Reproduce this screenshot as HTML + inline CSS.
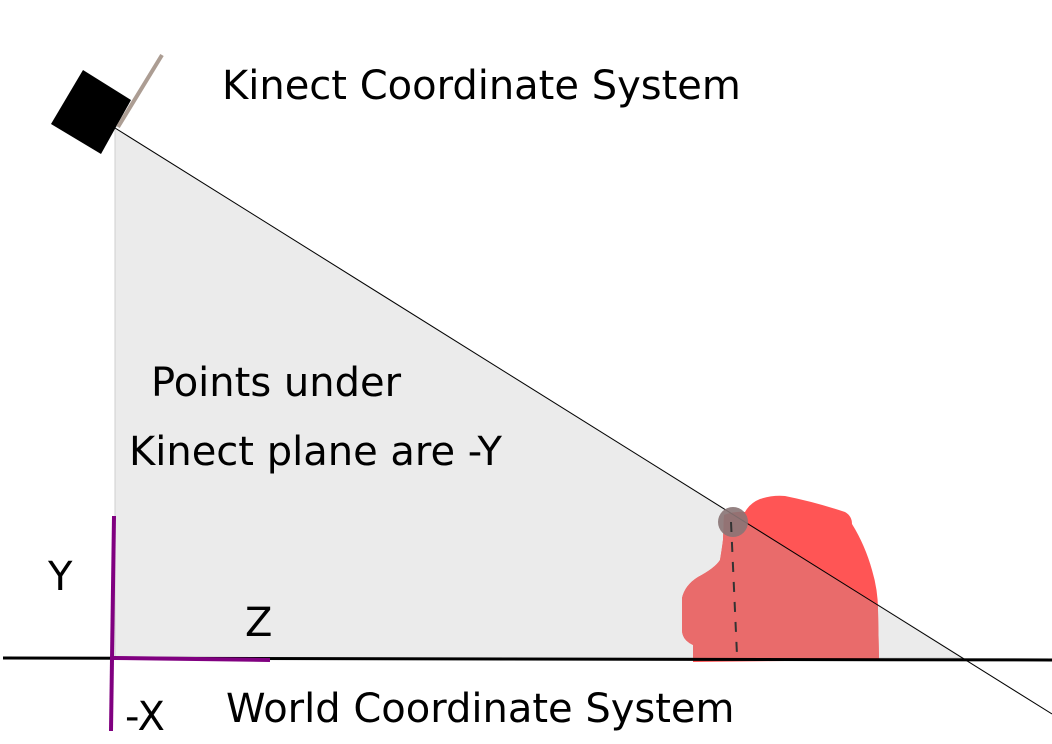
<!DOCTYPE html>
<html><head><meta charset="utf-8"><style>
html,body{margin:0;padding:0;background:#fff;}
svg{display:block;}
text{font-family:"DejaVu Sans","Liberation Sans",sans-serif;font-size:40px;fill:#000;}
</style></head><body>
<svg width="1052" height="744" viewBox="0 0 1052 744">
<defs>
<clipPath id="tri"><polygon points="115,128 115,658 963,658"/></clipPath>
</defs>
<polygon points="115,128 115,658 963,658" fill="#ebebeb" stroke="#cfcfcf" stroke-width="1"/>
<path d="M724,515 Q735,511 745,512 Q750,503 760,499 Q772,495 785,496 Q815,502 845,512 Q852,516 852,524 Q865,545 872,570 Q878,590 878,610 L879,660 L693,662 L693,645 Q682,640 682,630 L682,598 Q685,585 698,577 Q715,568 720,560 Q722,548 723,540 Z" fill="#ff5555"/>
<path clip-path="url(#tri)" d="M724,515 Q735,511 745,512 Q750,503 760,499 Q772,495 785,496 Q815,502 845,512 Q852,516 852,524 Q865,545 872,570 Q878,590 878,610 L879,660 L693,662 L693,645 Q682,640 682,630 L682,598 Q685,585 698,577 Q715,568 720,560 Q722,548 723,540 Z" fill="#e96b6b"/>
<line x1="3" y1="658" x2="1052" y2="660" stroke="#000" stroke-width="3"/>
<line x1="115" y1="128" x2="1052" y2="714" stroke="#000" stroke-width="1"/>
<circle cx="733" cy="522" r="15" fill="#8a7475" opacity="0.9"/>
<line x1="731" y1="522" x2="737" y2="655" stroke="#333" stroke-width="2" stroke-dasharray="10,10"/>
<polygon points="83,70 131,100 101,154 51,124" fill="#000"/>
<line x1="162" y1="55" x2="118" y2="127" stroke="#ac9d93" stroke-width="4"/>
<line x1="114" y1="516" x2="111" y2="731" stroke="#800080" stroke-width="4"/>
<line x1="114" y1="658" x2="270" y2="660" stroke="#800080" stroke-width="4"/>
<text x="222" y="99">Kinect Coordinate System</text>
<text x="151" y="396">Points under</text>
<text x="129" y="465">Kinect plane are -Y</text>
<text x="48" y="590">Y</text>
<text x="245" y="636">Z</text>
<text x="125" y="730">-X</text>
<text x="226" y="722">World Coordinate System</text>
</svg>
</body></html>
